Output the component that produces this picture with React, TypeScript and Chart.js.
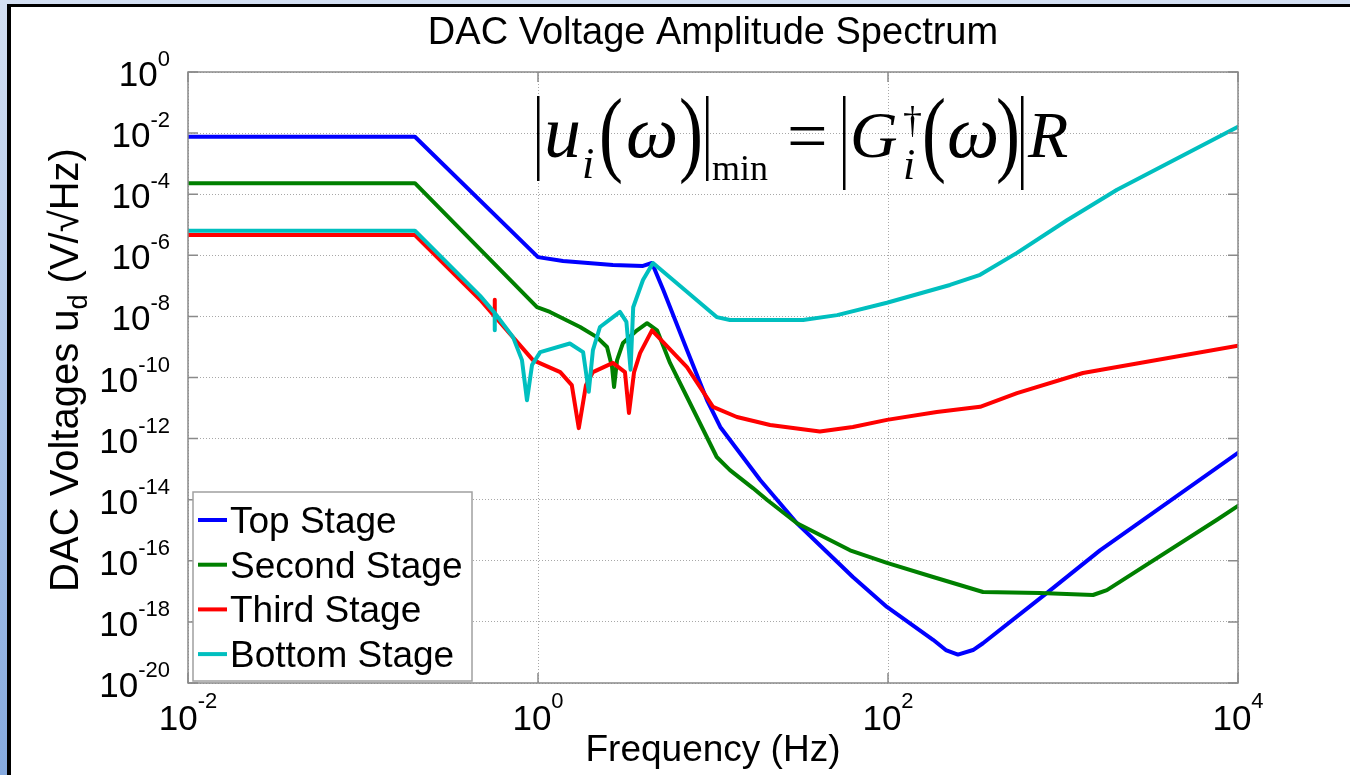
import React, { useEffect, useRef } from 'react';
import { Chart, registerables } from 'chart.js';

Chart.register(...registerables);

const SANS = '"Liberation Sans", Arial, Helvetica, sans-serif';
const SERIF = '"Liberation Serif", "Times New Roman", Times, serif';

const chartTitle = 'DAC Voltage Amplitude Spectrum';
const xAxisTitle = 'Frequency (Hz)';
const yAxisTitleParts = ['DAC Voltages u', 'd', ' (V/\u221AHz)'];

const xTickValues = [1e-2, 1e0, 1e2, 1e4];
const xTickExponents = ['-2', '0', '2', '4'];
const yTickValues = [1e0, 1e-2, 1e-4, 1e-6, 1e-8, 1e-10, 1e-12, 1e-14, 1e-16, 1e-18, 1e-20];
const yTickExponents = ['0', '-2', '-4', '-6', '-8', '-10', '-12', '-14', '-16', '-18', '-20'];

const seriesLabels = ['Top Stage', 'Second Stage', 'Third Stage', 'Bottom Stage'];
const seriesColors = ['#0000ff', '#008000', '#ff0000', '#00bfbf'];

const topFreq = [0.01, 0.198, 1.0, 1.39, 2.68, 3.98, 4.48, 5.2, 7.1, 9.25, 11, 18.6, 30.2, 63, 98.6, 181, 214, 251, 306, 349, 810, 1627, 10000];
const topVolt = [7.6e-3, 7.6e-3, 8.7e-7, 6.5e-7, 4.8e-7, 4.5e-7, 5.6e-7, 7.3e-8, 8e-10, 1.8e-11, 2.4e-12, 4.4e-14, 1.7e-15, 2.95e-17, 3.1e-18, 2.6e-19, 1.2e-19, 8.5e-20, 1.2e-19, 2.0e-19, 8.9e-18, 2.2e-16, 3.4e-13];

const secondFreq = [0.01, 0.198, 0.987, 1.17, 1.74, 2.17, 2.48, 2.65, 2.72, 2.83, 3.06, 3.68, 4.2, 4.79, 5.68, 7.1, 10.5, 12.5, 16.9, 20.4, 30.2, 60.7, 98.6, 181, 349, 740, 1484, 1782, 7586, 10000];
const secondVolt = [2.3e-4, 2.3e-4, 2.0e-8, 1.4e-8, 4.5e-9, 2.1e-9, 1e-9, 2.2e-10, 4.9e-11, 3.7e-10, 1.35e-9, 3.5e-9, 6.0e-9, 3.5e-9, 3e-10, 2.3e-11, 2.5e-13, 9.3e-14, 2.4e-14, 9.8e-15, 1.7e-15, 2.2e-16, 8.5e-17, 2.95e-17, 9.5e-18, 8.9e-18, 7.6e-18, 1.1e-17, 2.2e-15, 6.3e-15];

const thirdFreq = [0.01, 0.198, 0.467, 0.5655, 0.566, 0.5665, 0.936, 1.34, 1.56, 1.71, 1.88, 2.06, 2.68, 3.14, 3.31, 3.54, 3.83, 4.48, 7.1, 10, 13.7, 21.2, 40.8, 63, 98.6, 190, 336, 546, 1300, 10000];
const thirdVolt = [4.6e-6, 4.6e-6, 3.5e-8, 1.0e-8, 3.5e-8, 1.0e-8, 3.7e-10, 1.5e-10, 5.6e-11, 2.2e-12, 5.6e-11, 1.5e-10, 3.0e-10, 1.5e-10, 6.9e-12, 1.5e-10, 6.3e-10, 3.5e-9, 2.2e-10, 1.1e-11, 5.1e-12, 2.8e-12, 1.7e-12, 2.4e-12, 4.1e-12, 7.4e-12, 1.1e-11, 3.1e-11, 1.4e-10, 1.1e-9];

const bottomFreq = [0.01, 0.198, 0.467, 0.5655, 0.566, 0.5665, 0.72, 0.81, 0.865, 0.925, 1.03, 1.52, 1.81, 1.95, 2.06, 2.26, 2.94, 3.2, 3.38, 3.5, 3.98, 4.54, 10.5, 12.5, 32.7, 51.2, 98.6, 226, 336, 546, 1054, 2036, 10000];
const bottomVolt = [6.4e-6, 6.4e-6, 4.7e-8, 1.3e-8, 3.5e-9, 1.3e-8, 2.1e-9, 3.7e-10, 1.8e-11, 2.6e-10, 6.8e-10, 1.3e-9, 6.8e-10, 3.4e-11, 7.9e-10, 4.5e-9, 1.4e-8, 6.6e-9, 1.8e-10, 2.0e-8, 1.55e-7, 5.6e-7, 9.5e-9, 7.6e-9, 7.6e-9, 1.1e-8, 2.8e-8, 1.07e-7, 2.3e-7, 1.2e-6, 1.4e-5, 1.4e-4, 1.6e-2];

const seriesFreq = [topFreq, secondFreq, thirdFreq, bottomFreq];
const seriesVolt = [topVolt, secondVolt, thirdVolt, bottomVolt];

const overlayPlugin = {
  id: 'overlay',
  afterDraw(chart: any) {
    const { ctx, chartArea: a, scales } = chart;
    const xs = scales.x;
    const ys = scales.y;
    ctx.save();

    // frame
    ctx.strokeStyle = '#8a8a8a';
    ctx.lineWidth = 1.5;
    ctx.setLineDash([]);
    ctx.strokeRect(a.left, a.top, a.right - a.left, a.bottom - a.top);

    // inner tick marks
    ctx.beginPath();
    yTickValues.forEach((v) => {
      const y = ys.getPixelForValue(v);
      ctx.moveTo(a.left, y); ctx.lineTo(a.left + 10, y);
      ctx.moveTo(a.right, y); ctx.lineTo(a.right - 10, y);
    });
    xTickValues.forEach((v) => {
      const x = xs.getPixelForValue(v);
      ctx.moveTo(x, a.bottom); ctx.lineTo(x, a.bottom - 10);
      ctx.moveTo(x, a.top); ctx.lineTo(x, a.top + 10);
    });
    ctx.stroke();

    // tick labels
    ctx.fillStyle = '#000';
    ctx.textBaseline = 'alphabetic';
    ctx.textAlign = 'left';
    const baseFont = `35px ${SANS}`;
    const expFont = `22px ${SANS}`;
    yTickValues.forEach((v, i) => {
      const y = ys.getPixelForValue(v);
      ctx.font = expFont;
      const we = ctx.measureText(yTickExponents[i]).width;
      ctx.font = baseFont;
      const wb = ctx.measureText('10').width;
      const right = a.left - 18;
      ctx.fillText('10', right - we - wb, y + 14);
      ctx.font = expFont;
      ctx.fillText(yTickExponents[i], right - we, y - 6);
    });
    xTickValues.forEach((v, i) => {
      const x = xs.getPixelForValue(v);
      ctx.font = expFont;
      const we = ctx.measureText(xTickExponents[i]).width;
      ctx.font = baseFont;
      const wb = ctx.measureText('10').width;
      const start = x - (wb + we) / 2;
      ctx.fillText('10', start, a.bottom + 47);
      ctx.font = expFont;
      ctx.fillText(xTickExponents[i], start + wb, a.bottom + 25);
    });

    // y axis title with subscript
    ctx.save();
    ctx.translate(78, 370);
    ctx.rotate(-Math.PI / 2);
    const mainF = `40px ${SANS}`;
    const subF = `27px ${SANS}`;
    ctx.font = mainF;
    const w1 = ctx.measureText(yAxisTitleParts[0]).width;
    const w3 = ctx.measureText(yAxisTitleParts[2]).width;
    ctx.font = subF;
    const w2 = ctx.measureText(yAxisTitleParts[1]).width;
    let sx = -(w1 + w2 + w3) / 2;
    ctx.font = mainF;
    ctx.fillText(yAxisTitleParts[0], sx, 0);
    sx += w1;
    ctx.font = subF;
    ctx.fillText(yAxisTitleParts[1], sx, 9);
    sx += w2;
    ctx.font = mainF;
    ctx.fillText(yAxisTitleParts[2], sx, 0);
    ctx.restore();

    // legend box inside plot area
    const lx = a.left + 5;
    const ly = a.bottom - 191;
    const lw = 279;
    const lh = 189;
    ctx.fillStyle = '#fff';
    ctx.fillRect(lx, ly, lw, lh);
    ctx.strokeStyle = '#a0a0a0';
    ctx.lineWidth = 1.5;
    ctx.strokeRect(lx, ly, lw, lh);
    ctx.font = `37px ${SANS}`;
    seriesLabels.forEach((lab, i) => {
      const ry = ly + 28 + i * 44.7;
      ctx.strokeStyle = seriesColors[i];
      ctx.lineWidth = 4;
      ctx.beginPath();
      ctx.moveTo(lx + 5, ry);
      ctx.lineTo(lx + 34, ry);
      ctx.stroke();
      ctx.fillStyle = '#000';
      ctx.fillText(lab, lx + 37, ry + 13);
    });

    // formula |u_i(w)|_min = |G_i^dagger(w)| R
    ctx.fillStyle = '#000';
    const bar = (x: number, y1: number, y2: number) => ctx.fillRect(x, y1, 2.5, y2 - y1);
    const txt = (t: string, x: number, y: number, size: number, italic: boolean) => {
      ctx.font = `${italic ? 'italic ' : ''}${size}px ${SERIF}`;
      ctx.fillText(t, x, y);
    };
    const paren = (t: string, x: number, y: number) => {
      ctx.save();
      ctx.translate(x, y);
      ctx.scale(1, 1.32);
      ctx.font = `72px ${SERIF}`;
      ctx.fillText(t, 0, 0);
      ctx.restore();
    };
    bar(537, 96, 181);
    txt('u', 544, 157, 74, true);
    txt('i', 582, 178, 44, true);
    paren('(', 599, 164);
    txt('\u03C9', 626, 157, 74, true);
    paren(')', 679, 164);
    bar(706, 96, 181);
    txt('min', 712, 180, 36, false);
    txt('=', 787, 160, 72, false);
    bar(843, 96, 190);
    txt('G', 850, 157, 66, true);
    txt('\u2020', 903, 133, 38, false);
    txt('i', 903, 179, 44, true);
    paren('(', 922, 164);
    txt('\u03C9', 947, 157, 74, true);
    paren(')', 996, 164);
    bar(1021, 96, 190);
    txt('R', 1028, 157, 66, true);

    ctx.restore();
  },
};

export default function App() {
  const canvasRef = useRef<HTMLCanvasElement | null>(null);

  useEffect(() => {
    const canvas = canvasRef.current;
    if (!canvas) return;
    const chart = new Chart(canvas, {
      type: 'line',
      data: {
        datasets: seriesLabels.map((label, i) => ({
          label,
          data: seriesFreq[i].map((f, j) => ({ x: f, y: seriesVolt[i][j] })),
          borderColor: seriesColors[i],
          backgroundColor: seriesColors[i],
          borderWidth: 4,
          pointRadius: 0,
          tension: 0,
          fill: false,
          order: 3 - i,
          borderJoinStyle: 'round',
          borderCapStyle: 'round',
        })),
      },
      options: {
        responsive: false,
        animation: false,
        layout: { padding: { left: 0, right: 112, top: 0, bottom: 0 } },
        plugins: {
          legend: { display: false },
          tooltip: { enabled: false },
          title: {
            display: true,
            text: chartTitle,
            fullSize: false,
            color: '#000',
            font: { family: SANS, size: 38, weight: 'normal', lineHeight: 1.2 },
            padding: { top: 11, bottom: 15.4 },
          },
        },
        scales: {
          x: {
            type: 'logarithmic',
            min: 1e-2,
            max: 1e4,
            afterBuildTicks: (s: any) => { s.ticks = xTickValues.map((v) => ({ value: v })); },
            afterFit: (s: any) => { s.height = 92; },
            ticks: { display: false },
            grid: { color: '#a8a8a8', lineWidth: 1, drawTicks: false },
            border: { display: false, dash: [1, 2] },
            title: {
              display: true,
              text: xAxisTitle,
              color: '#000',
              font: { family: SANS, size: 37, weight: 'normal', lineHeight: 1.2 },
              padding: { top: 0, bottom: 2 },
            },
          },
          y: {
            type: 'logarithmic',
            min: 1e-20,
            max: 1,
            afterBuildTicks: (s: any) => { s.ticks = yTickValues.map((v) => ({ value: v })); },
            afterFit: (s: any) => { s.width = 188; },
            ticks: { display: false },
            grid: { color: '#a8a8a8', lineWidth: 1, drawTicks: false },
            border: { display: false, dash: [1, 2] },
          },
        },
      } as any,
      plugins: [overlayPlugin],
    });
    return () => chart.destroy();
  }, []);

  return (
    <div
      style={{
        position: 'fixed', left: 0, top: 0, width: 1350, height: 775, overflow: 'hidden',
        background: 'linear-gradient(to bottom, #d3dff2 0%, #aec6ea 50%, #86aadf 100%)',
      }}
    >
      <div
        style={{
          position: 'absolute', left: 7, top: 4, right: 0, bottom: 0,
          borderLeft: '4px solid #000', borderTop: '3px solid #000', background: '#fff',
        }}
      />
      <canvas
        ref={canvasRef}
        width={1350}
        height={775}
        style={{ position: 'absolute', left: 0, top: 0, width: 1350, height: 775 }}
      />
    </div>
  );
}
